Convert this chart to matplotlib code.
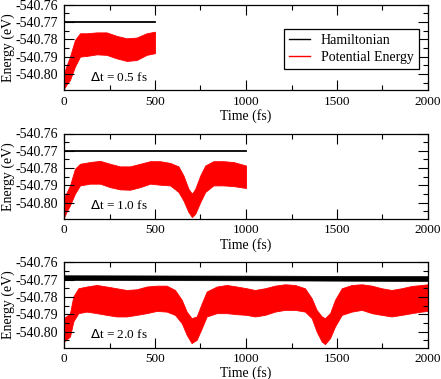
import matplotlib
matplotlib.use("Agg")
import matplotlib.pyplot as plt
from matplotlib.lines import Line2D
from matplotlib.ticker import MultipleLocator, FormatStrFormatter

# time step labels
dt_labels = [r"$\Delta$t = 0.5 fs", r"$\Delta$t = 1.0 fs", r"$\Delta$t = 2.0 fs"]

# potential energy envelope, dt = 0.5 fs (eV)
t1 = [0, 15, 33, 60, 88, 125, 180, 234, 289, 344, 399, 454, 500]
pe1_hi = [-540.7995, -540.7950, -540.7900, -540.7804, -540.7765, -540.7765, -540.7760,
          -540.7760, -540.7780, -540.7794, -540.7790, -540.7765, -540.7756]
pe1_lo = [-540.8085, -540.8060, -540.8035, -540.7958, -540.7900, -540.7896, -540.7887,
          -540.7890, -540.7910, -540.7925, -540.7920, -540.7890, -540.7880]
h1_t = [0, 500]
h1 = [-540.7699, -540.7699]

# dt = 1.0 fs
t2 = [0, 15, 33, 60, 88, 143, 198, 253, 308, 363, 418, 473, 528, 583, 629, 656, 684,
      703, 721, 749, 776, 821, 876, 931, 1000]
pe2_hi = [-540.7970, -540.7940, -540.7900, -540.7804, -540.7775, -540.7765, -540.7758,
          -540.7775, -540.7790, -540.7790, -540.7775, -540.7760, -540.7760, -540.7770,
          -540.7790, -540.7842, -540.7920, -540.7948, -540.7920, -540.7842, -540.7785,
          -540.7760, -540.7760, -540.7765, -540.7785]
pe2_lo = [-540.8085, -540.8050, -540.8015, -540.7948, -540.7900, -540.7890, -540.7890,
          -540.7910, -540.7923, -540.7925, -540.7910, -540.7890, -540.7896, -540.7900,
          -540.7938, -540.7987, -540.8054, -540.8083, -540.8064, -540.7996, -540.7938,
          -540.7900, -540.7900, -540.7904, -540.7915]
h2_t = [0, 1000]
h2 = [-540.7699, -540.7699]

# dt = 2.0 fs
t3 = [0, 15, 33, 51, 79, 125, 180, 234, 289, 344, 399, 454, 509, 564, 610, 647, 674,
      701, 729, 757, 784, 839, 894, 949, 1004, 1049, 1104, 1159, 1214, 1269, 1324, 1361,
      1388, 1416, 1434, 1462, 1489, 1526, 1581, 1636, 1691, 1745, 1800, 1855, 1910,
      1965, 2000]
pe3_hi = [-540.7923, -540.7910, -540.7894, -540.7798, -540.7750, -540.7740, -540.7731,
          -540.7740, -540.7750, -540.7760, -540.7756, -540.7740, -540.7735, -540.7735,
          -540.7760, -540.7817, -540.7885, -540.7923, -540.7913, -540.7837, -540.7769,
          -540.7740, -540.7731, -540.7740, -540.7750, -540.7760, -540.7750, -540.7735,
          -540.7727, -540.7731, -540.7750, -540.7808, -540.7875, -540.7913, -540.7923,
          -540.7894, -540.7817, -540.7750, -540.7731, -540.7727, -540.7735, -540.7750,
          -540.7760, -540.7750, -540.7737, -540.7731, -540.7727]
pe3_lo = [-540.8058, -540.8045, -540.8029, -540.7942, -540.7894, -540.7885, -540.7894,
          -540.7904, -540.7913, -540.7913, -540.7904, -540.7894, -540.7881, -540.7885,
          -540.7904, -540.7952, -540.8019, -540.8067, -540.8048, -540.7981, -540.7913,
          -540.7894, -540.7894, -540.7900, -540.7904, -540.7913, -540.7904, -540.7885,
          -540.7875, -540.7875, -540.7885, -540.7923, -540.8000, -540.8058, -540.8073,
          -540.8038, -540.7971, -540.7904, -540.7885, -540.7875, -540.7894, -540.7904,
          -540.7913, -540.7904, -540.7894, -540.7885, -540.7881]
h3_t = [0, 1000, 2000]
h3_hi = [-540.7675, -540.7677, -540.7680]
h3_lo = [-540.7702, -540.7704, -540.7708]

plt.rcParams['font.family'] = 'Liberation Serif'
plt.rcParams['font.size'] = 10

fig = plt.figure(figsize=(4.41, 3.79), dpi=100)
W, H = 441.0, 379.0
left, right = 64, 428
tops = [4.7, 133.5, 262.3]
height = 85.3

panels = [
    (t1, pe1_hi, pe1_lo, h1_t, h1, None),
    (t2, pe2_hi, pe2_lo, h2_t, h2, None),
    (t3, pe3_hi, pe3_lo, h3_t, h3_hi, h3_lo),
]

for i, (t, hi, lo, ht, hh, hl) in enumerate(panels):
    ax = fig.add_axes([left / W, 1 - (tops[i] + height) / H, (right - left) / W, height / H])
    ax.fill_between(t, lo, hi, color='red', linewidth=0.6, edgecolor='red')
    if hl is None:
        ax.plot(ht, hh, color='black', linewidth=1.3)
    else:
        ax.fill_between(ht, hl, hh, color='black', linewidth=0.5)

    ax.set_xlim(0, 2000)
    ax.set_ylim(-540.8093, -540.76)
    ax.xaxis.set_major_locator(MultipleLocator(500))
    ax.xaxis.set_minor_locator(MultipleLocator(250))
    ax.yaxis.set_major_locator(MultipleLocator(0.01))
    ax.yaxis.set_minor_locator(MultipleLocator(0.005))
    ax.yaxis.set_major_formatter(FormatStrFormatter('%.2f'))
    ax.tick_params(which='both', direction='in', top=True, right=True, width=0.8)
    ax.tick_params(which='major', length=7)
    ax.tick_params(which='minor', length=3.6)
    ax.tick_params(axis='x', labelsize=9.5, pad=4)
    ax.tick_params(axis='y', labelsize=10, pad=4)
    for sp in ax.spines.values():
        sp.set_linewidth(0.9)

    ax.set_xlabel('Time (fs)', labelpad=1)
    ax.set_ylabel('Energy (eV)')
    ax.yaxis.set_label_coords(-0.134, 0.5)
    ax.text(0.071, 0.152, dt_labels[i], transform=ax.transAxes, fontsize=9.5,
            ha='left', va='center')

    if i == 0:
        handles = [Line2D([], [], color='black', linewidth=1),
                   Line2D([], [], color='red', linewidth=1)]
        leg = ax.legend(handles, ['Hamiltonian', 'Potential Energy'], loc='upper left',
                        bbox_to_anchor=(0.605, 0.712), borderaxespad=0, fancybox=False,
                        framealpha=1, edgecolor='black', handlelength=1.5,
                        handletextpad=0.8, borderpad=0.35, labelspacing=0.3, fontsize=10)
        leg.get_frame().set_linewidth(0.9)

fig.savefig('out.png', dpi=100)
